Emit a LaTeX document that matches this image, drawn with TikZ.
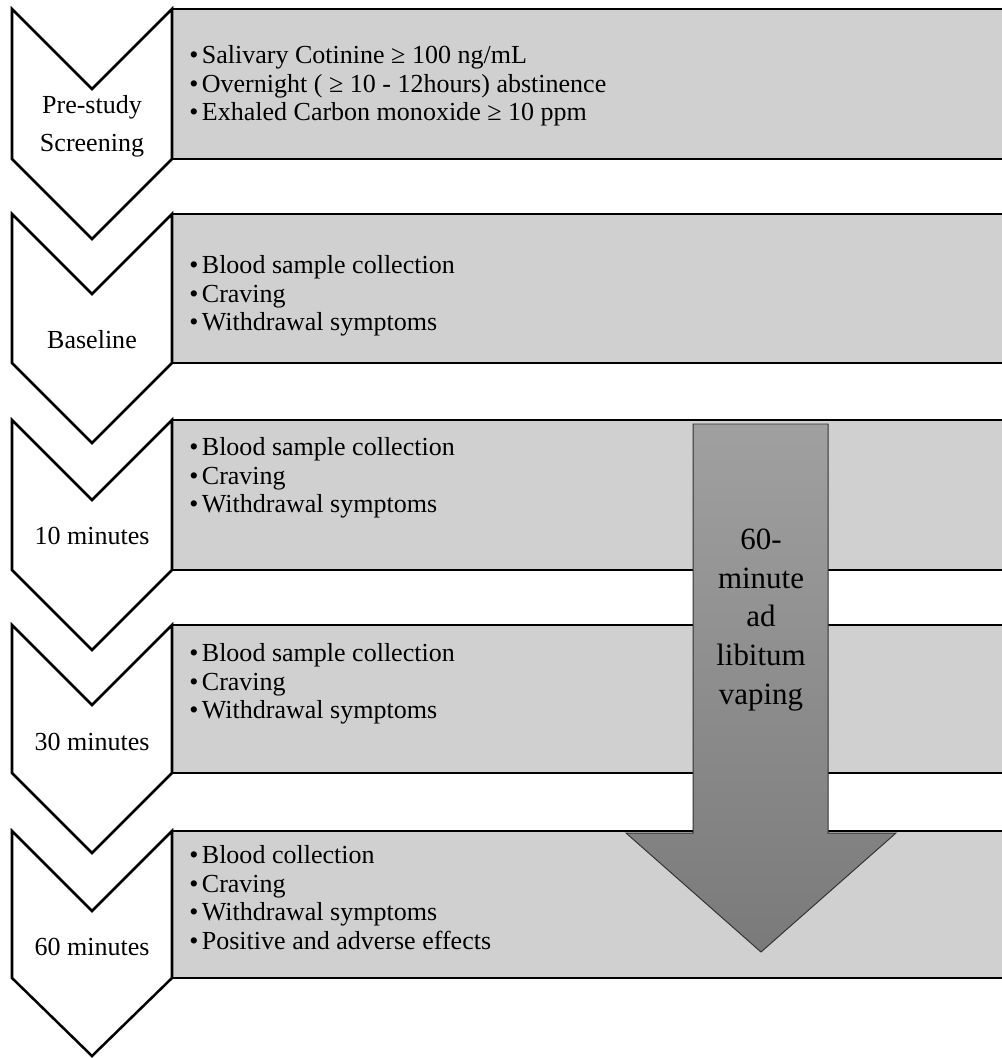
\documentclass[tikz,border=0pt]{standalone}
\usepackage{fontspec}
\setmainfont{Liberation Serif}
\usetikzlibrary{positioning}

\definecolor{boxgray}{RGB}{208,208,208}
\definecolor{arrowtop}{RGB}{160,160,160}
\definecolor{arrowbottom}{RGB}{122,122,122}
\newcommand{\bul}{\textbullet\hspace{2.5pt}}

\begin{document}
\begin{tikzpicture}[x=0.025cm, y=-0.025cm,
		chevron/.style={draw=black, line width=1.8pt, fill=white, line join=miter},
		stagebox/.style={draw=black, line width=1.8pt, fill=boxgray},
		stagelabel/.style={font=\fontsize{18.5}{27}\selectfont, align=center, inner sep=0pt},
		itemlist/.style={font=\fontsize{18.5}{20.4}\selectfont, align=left, anchor=north west, inner sep=0pt},
		arrowlabel/.style={font=\fontsize{22}{27.7}\selectfont, align=center, inner sep=0pt}]
		\useasboundingbox (0,0) rectangle (1001,1058);
		
		% Stage 1: Pre-study screening
		\draw[stagebox] (172,9) rectangle (1010,159);
		\draw[chevron] (12,9) -- (92,89) -- (172,9) -- (172,159) -- (92,239) -- (12,159) -- cycle;
		\node[stagelabel] (screen) at (92,126) {Pre-study\\Screening};
		\node[itemlist] (screenlist) at (189,45) {\bul Salivary Cotinine ≥ 100 ng/mL\\\bul Overnight ( ≥ 10 - 12hours) abstinence\\\bul Exhaled Carbon monoxide ≥ 10 ppm};
		
		% Stage 2: Baseline
		\draw[stagebox] (172,214) rectangle (1010,363);
		\draw[chevron] (12,214) -- (92,294) -- (172,214) -- (172,363) -- (92,443) -- (12,363) -- cycle;
		\node[stagelabel] (base) at (92,340) {Baseline};
		\node[itemlist] (baselist) at (189,255) {\bul Blood sample collection\\\bul Craving\\\bul Withdrawal symptoms};
		
		% Stage 3: 10 minutes
		\draw[stagebox] (172,420) rectangle (1010,570);
		\draw[chevron] (12,420) -- (92,500) -- (172,420) -- (172,570) -- (92,650) -- (12,570) -- cycle;
		\node[stagelabel] (ten) at (92,536) {10 minutes};
		\node[itemlist] (tenlist) at (189,437) {\bul Blood sample collection\\\bul Craving\\\bul Withdrawal symptoms};
		
		% Stage 4: 30 minutes
		\draw[stagebox] (172,625) rectangle (1010,773);
		\draw[chevron] (12,625) -- (92,705) -- (172,625) -- (172,773) -- (92,853) -- (12,773) -- cycle;
		\node[stagelabel] (thirty) at (92,742) {30 minutes};
		\node[itemlist] (thirtylist) at (189,643) {\bul Blood sample collection\\\bul Craving\\\bul Withdrawal symptoms};
		
		% Stage 5: 60 minutes
		\draw[stagebox] (172,831) rectangle (1010,978);
		\draw[chevron] (12,831) -- (92,911) -- (172,831) -- (172,978) -- (92,1056) -- (12,978) -- cycle;
		\node[stagelabel] (sixty) at (92,947) {60 minutes};
		\node[itemlist] (sixtylist) at (189,845) {\bul Blood collection\\\bul Craving\\\bul Withdrawal symptoms\\\bul Positive and adverse effects};
		
		% Vaping period arrow
		\shadedraw[top color=arrowtop, bottom color=arrowbottom, draw=black!80, line width=0.7pt]
			(693,424) -- (828,424) -- (828,833) -- (896,833) -- (761,952) -- (626,833) -- (693,833) -- cycle;
		\node[arrowlabel] (vaping) at (761,620) {60-\\minute\\ad\\libitum\\vaping};
		
	\end{tikzpicture}
\end{document}
